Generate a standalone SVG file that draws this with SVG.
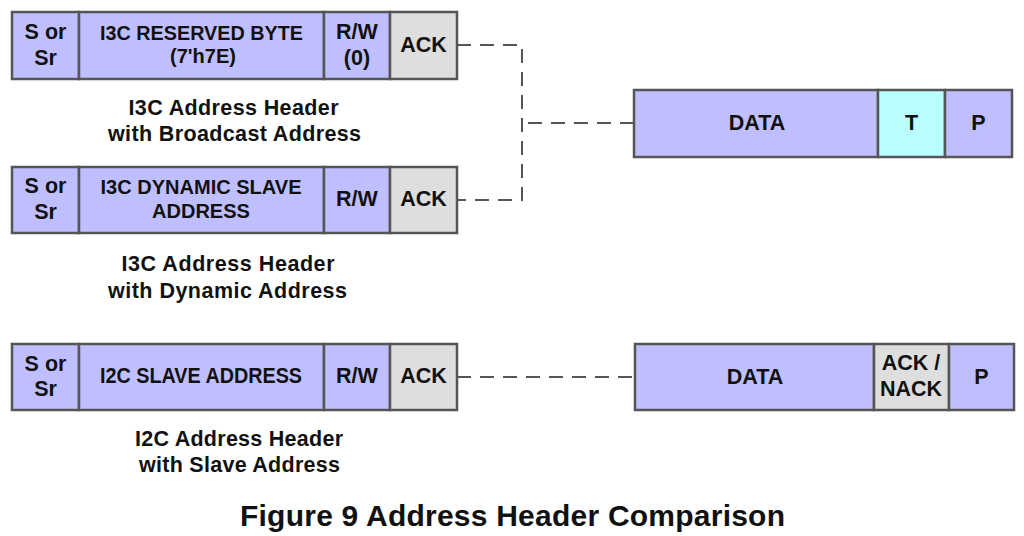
<svg xmlns="http://www.w3.org/2000/svg" width="1024" height="536" viewBox="0 0 1024 536">
<style>
rect{stroke:#555;stroke-width:2.5}
.p{fill:#BFBFFF}
.g{fill:#DEDEDE}
.c{fill:#BAFFFF}
text{font-family:"Liberation Sans",Arial,sans-serif;font-weight:bold;fill:#111;text-anchor:middle}
.f{font-size:21.5px}
.s{font-size:20px}
.l{font-size:21.5px}
.t{font-size:30px}
.d{fill:none;stroke:#555;stroke-width:2;stroke-dasharray:14,9}
</style>
<rect width="1024" height="536" fill="#fff" style="stroke:none"/>
<g id="connectors">
<path class="d" d="M457,45 H522 V200 H457"/>
<path class="d" d="M634,123 H522"/>
<path class="d" d="M457,377 H635"/>
</g>
<g id="hdr1">
<rect class="p" x="12" y="12" width="67" height="67"/>
<rect class="p" x="79" y="12" width="245" height="67"/>
<rect class="p" x="324" y="12" width="66" height="67"/>
<rect class="g" x="390" y="12" width="67" height="67"/>
<text class="f" x="45.5" y="39">S or</text>
<text class="f" x="45.5" y="65">Sr</text>
<text class="s" x="201.5" y="40" textLength="203" lengthAdjust="spacingAndGlyphs">I3C RESERVED BYTE</text>
<text class="s" x="203" y="63">(7'h7E)</text>
<text class="f" x="357" y="39">R/W</text>
<text class="f" x="357" y="65">(0)</text>
<text class="f" x="423.5" y="52">ACK</text>
</g>
<g id="label1">
<text class="l" x="233.5" y="115" textLength="210" lengthAdjust="spacing">I3C Address Header</text>
<text class="l" x="234.5" y="141" textLength="253" lengthAdjust="spacing">with Broadcast Address</text>
</g>
<g id="hdr2">
<rect class="p" x="12" y="167" width="67" height="66"/>
<rect class="p" x="79" y="167" width="245" height="66"/>
<rect class="p" x="324" y="167" width="66" height="66"/>
<rect class="g" x="390" y="167" width="67" height="66"/>
<text class="f" x="45.5" y="193">S or</text>
<text class="f" x="45.5" y="219">Sr</text>
<text class="s" x="201" y="194" textLength="201" lengthAdjust="spacingAndGlyphs">I3C DYNAMIC SLAVE</text>
<text class="s" x="201" y="218">ADDRESS</text>
<text class="f" x="357" y="206">R/W</text>
<text class="f" x="423.5" y="206">ACK</text>
</g>
<g id="label2">
<text class="l" x="228" y="271" textLength="213" lengthAdjust="spacing">I3C Address Header</text>
<text class="l" x="227.5" y="298" textLength="239" lengthAdjust="spacing">with Dynamic Address</text>
</g>
<g id="data1">
<rect class="p" x="634" y="90" width="244" height="67"/>
<rect class="c" x="878" y="90" width="67" height="67"/>
<rect class="p" x="945" y="90" width="67" height="67"/>
<text class="f" x="757" y="130">DATA</text>
<text class="f" x="911.5" y="130">T</text>
<text class="f" x="978.5" y="130">P</text>
</g>
<g id="hdr3">
<rect class="p" x="12" y="344" width="67" height="66"/>
<rect class="p" x="79" y="344" width="245" height="66"/>
<rect class="p" x="324" y="344" width="66" height="66"/>
<rect class="g" x="390" y="344" width="67" height="66"/>
<text class="f" x="45.5" y="371">S or</text>
<text class="f" x="45.5" y="396">Sr</text>
<text class="f" x="201" y="383" textLength="202" lengthAdjust="spacingAndGlyphs">I2C SLAVE ADDRESS</text>
<text class="f" x="357" y="383">R/W</text>
<text class="f" x="423.5" y="383">ACK</text>
</g>
<g id="label3">
<text class="l" x="239" y="446" textLength="208" lengthAdjust="spacing">I2C Address Header</text>
<text class="l" x="239.5" y="472" textLength="201" lengthAdjust="spacing">with Slave Address</text>
</g>
<g id="data2">
<rect class="p" x="635" y="344" width="239" height="66"/>
<rect class="g" x="874" y="344" width="75" height="66"/>
<rect class="p" x="949" y="344" width="65" height="66"/>
<text class="f" x="755" y="384">DATA</text>
<text class="f" x="911" y="370">ACK /</text>
<text class="f" x="911" y="396">NACK</text>
<text class="f" x="981.5" y="384">P</text>
</g>
<g id="title">
<text class="t" x="512.5" y="526" textLength="545" lengthAdjust="spacing">Figure 9 Address Header Comparison</text>
</g>
</svg>
